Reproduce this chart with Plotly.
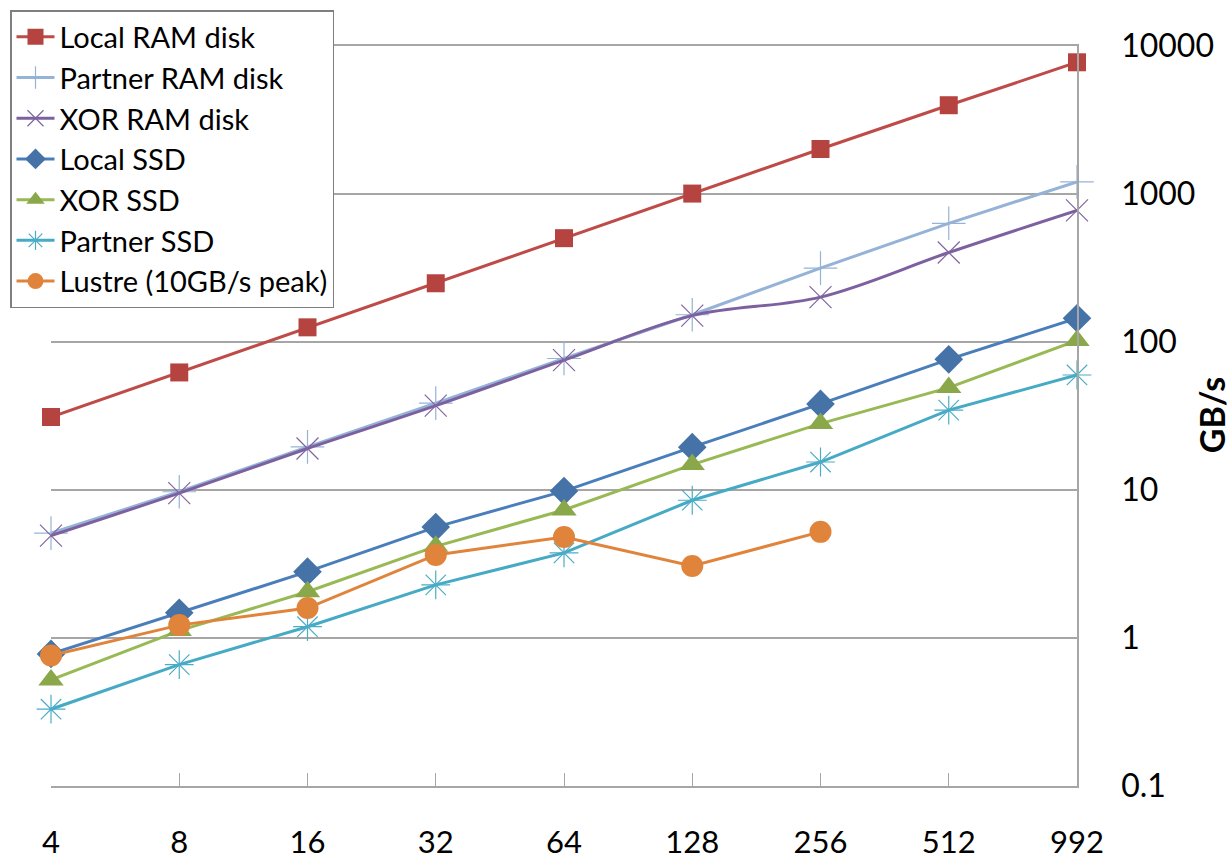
import plotly.graph_objects as go

categories = ["4", "8", "16", "32", "64", "128", "256", "512", "992"]

local_ram = [31, 62, 125, 248, 500, 1000, 2000, 3950, 7700]
partner_ram = [5.1, 9.7, 19.5, 38.5, 77, 152, 314, 630, 1200]
xor_ram = [4.9, 9.5, 19, 37, 75, 150, 200, 400, 770]
local_ssd = [0.78, 1.48, 2.8, 5.6, 9.8, 19.4, 38, 76, 144]
xor_ssd = [0.52, 1.12, 2.05, 4.15, 7.3, 14.8, 28, 49, 102]
partner_ssd = [0.33, 0.66, 1.19, 2.28, 3.75, 8.5, 15.4, 34.5, 59.6]
lustre = [0.76, 1.22, 1.59, 3.63, 4.8, 3.06, 5.2]

ytick_vals = [0.1, 1, 10, 100, 1000, 10000]
ytick_text = ["0.1", "1", "10", "100", "1000", "10000"]

FONT = "Lato"

series = [
    ("Local RAM disk", local_ram, "#BE4B48", dict(symbol="square", size=18, color="#B5433F"), "linear"),
    ("Partner RAM disk", partner_ram, "#95B3D7", dict(symbol="cross-thin", size=24, line=dict(color="#95B3D7", width=1.2)), "linear"),
    ("XOR RAM disk", xor_ram, "#7D60A0", dict(symbol="x-thin", size=22, line=dict(color="#8064A2", width=1.2)), "spline"),
    ("Local SSD", local_ssd, "#4A7EBB", dict(symbol="diamond", size=22, color="#4572A7"), "linear"),
    ("XOR SSD", xor_ssd, "#98B954", dict(symbol="triangle-up", size=22, color="#8AA84A"), "linear"),
    ("Partner SSD", partner_ssd, "#46AAC5", dict(symbol="asterisk", size=24, line=dict(color="#4BACC6", width=1.2)), "linear"),
    ("Lustre (10GB/s peak)", lustre, "#E0843C", dict(symbol="circle", size=22, color="#E0843C"), "linear"),
]

fig = go.Figure()
for i, (name, vals, col, mk, shape) in enumerate(series):
    line = dict(color=col, width=3, shape=shape)
    if shape == "spline":
        line["smoothing"] = 1
    fig.add_trace(go.Scatter(
        x=categories[:len(vals)], y=vals, name=name, mode="lines+markers",
        line=line, marker=mk, cliponaxis=False, legendgroup=f"g{i}",
    ))

fig.update_layout(
    width=1232, height=861,
    margin=dict(l=51, r=155, t=44, b=75, autoexpand=False),
    paper_bgcolor="white", plot_bgcolor="white",
    font=dict(family=FONT, size=30, color="black"),
    showlegend=True,
    legend=dict(
        xref="container", yref="container", x=10/1232, y=1-10/861,
        xanchor="left", yanchor="top",
        bgcolor="white", bordercolor="#7F7F7F", borderwidth=1.5,
        font=dict(family=FONT, size=29, color="black"),
        tracegroupgap=0, itemwidth=38,
    ),
    xaxis=dict(
        type="category", categoryorder="array", categoryarray=categories,
        range=[0, 8], showgrid=False, zeroline=False,
        showline=True, linecolor="#A6A6A6", linewidth=1.5,
        ticks="inside", ticklen=13, tickcolor="#A6A6A6", tickwidth=1,
        tickfont=dict(family=FONT, size=31), ticklabelstandoff=28,
    ),
    yaxis=dict(
        type="log", range=[-1, 4.01], side="right",
        tickvals=ytick_vals, ticktext=ytick_text,
        showgrid=True, gridcolor="#A6A6A6", gridwidth=1.5,
        showline=True, linecolor="#A6A6A6", linewidth=1.5,
        ticks="", zeroline=False,
        tickfont=dict(family=FONT, size=32), ticklabelstandoff=36,
        title=dict(text="<b>GB/s</b>", font=dict(family=FONT, size=34), standoff=12),
    ),
)

fig.write_html("out.html")
